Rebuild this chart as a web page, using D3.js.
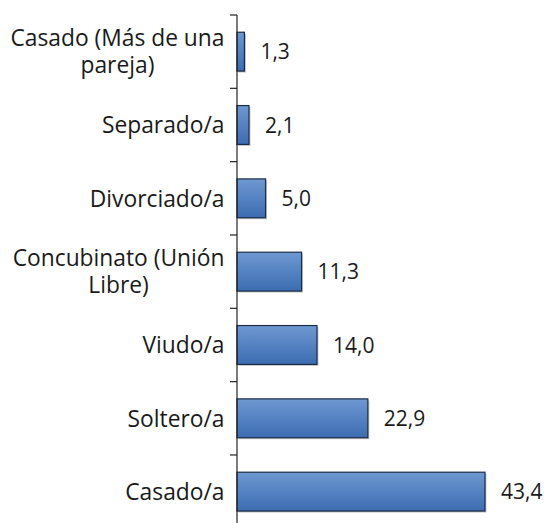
<!DOCTYPE html>
<html>
<head>
<meta charset="utf-8">
<script src="https://cdn.jsdelivr.net/npm/d3@7"></script>
<style>
  body { margin: 0; background: #fff; }
  text { font-family: "Open Sans", "Noto Sans", sans-serif; fill: #1a1a1a; }
</style>
</head>
<body>
<script>
const categories = [
    ["Casado (Más de una", "pareja)"],
    ["Separado/a"],
    ["Divorciado/a"],
    ["Concubinato (Unión", "Libre)"],
    ["Viudo/a"],
    ["Soltero/a"],
    ["Casado/a"]
]
const values = [1.3, 2.1, 5.0, 11.3, 14.0, 22.9, 43.4]

const m = { width: 547, height: 523, axisX: 237, top: 15, bottom: 528.3 }

const svg = d3.select("body").append("svg")
    .attr("width", m.width)
    .attr("height", m.height)

const defs = svg.append("defs")
const grad = defs.append("linearGradient")
    .attr("id", "barGrad")
    .attr("x1", 0).attr("y1", 0).attr("x2", 0).attr("y2", 1)
grad.append("stop").attr("offset", "0%").attr("stop-color", "#6e98d1")
grad.append("stop").attr("offset", "100%").attr("stop-color", "#3c6cb1")

const keys = categories.map(function(d, i) { return i })

const y = d3.scaleBand()
    .domain(keys)
    .range([m.top, m.bottom])
    .paddingInner(0.47)
    .paddingOuter(0.235)

const x = d3.scaleLinear()
    .domain([0, 50])
    .range([m.axisX, m.axisX + 285.7])

const g = svg.append("g")

// bars, with a faint shadow
g.selectAll(".shadow")
    .data(values)
    .enter()
    .append("rect")
        .attr("x", m.axisX + 1.5)
        .attr("y", function(d, i) { return y(i) + 1.5 })
        .attr("width", function(d) { return x(d) - m.axisX })
        .attr("height", y.bandwidth())
        .attr("fill", "#c8c8c8")

g.selectAll(".bar")
    .data(values)
    .enter()
    .append("rect")
        .attr("x", m.axisX)
        .attr("y", function(d, i) { return y(i) })
        .attr("width", function(d) { return x(d) - m.axisX })
        .attr("height", y.bandwidth())
        .attr("fill", "url(#barGrad)")
        .attr("stroke", "#1b2c47")
        .attr("stroke-width", 1.2)

// value labels
g.selectAll(".val")
    .data(values)
    .enter()
    .append("text")
        .attr("x", function(d) { return x(d) + 16 })
        .attr("y", function(d, i) { return y(i) + y.bandwidth() / 2 })
        .attr("dy", "0.36em")
        .style("font-size", "21px")
        .text(function(d) { return d.toFixed(1).replace(".", ",") })

// axis line and ticks between categories
const axis = svg.append("g")
axis.append("line")
    .attr("x1", m.axisX).attr("x2", m.axisX)
    .attr("y1", m.top).attr("y2", m.bottom)
    .attr("stroke", "#222")
    .attr("stroke-width", 1.2)

const step = y.step()
axis.selectAll(".tick")
    .data(d3.range(keys.length + 1))
    .enter()
    .append("line")
        .attr("x1", m.axisX - 7).attr("x2", m.axisX)
        .attr("y1", function(i) { return m.top + i * step })
        .attr("y2", function(i) { return m.top + i * step })
        .attr("stroke", "#222")
        .attr("stroke-width", 1.2)

// category labels: one text per category, wrapped lines as tspans
// centred on the widest line, block right edge next to the axis
const labelRight = 224.5
const lineH = 27
categories.forEach(function(lines, i) {
    const cy = y(i) + y.bandwidth() / 2
    const t = svg.append("text")
        .attr("text-anchor", "middle")
        .style("font-size", "22.8px")
    const spans = lines.map(function(s, j) {
        return t.append("tspan")
            .attr("y", cy + (j - (lines.length - 1) / 2) * lineH)
            .attr("dy", "0.36em")
            .text(s)
    })
    const maxW = d3.max(spans, function(s) { return s.node().getComputedTextLength() })
    spans.forEach(function(s) { s.attr("x", labelRight - maxW / 2) })
})
</script>
</body>
</html>
